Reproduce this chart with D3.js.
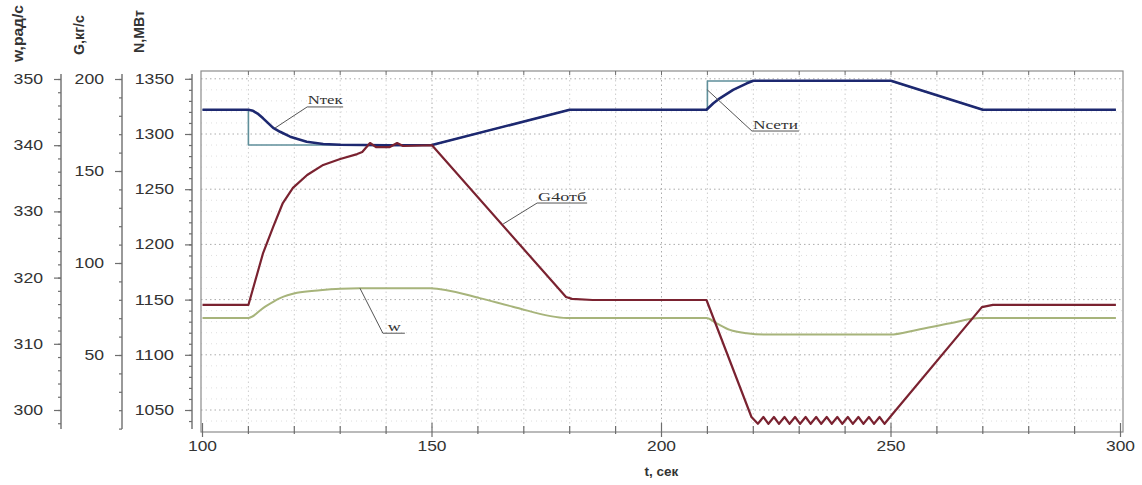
<!DOCTYPE html>
<html>
<head>
<meta charset="utf-8">
<script src="https://cdn.jsdelivr.net/npm/d3@7"></script>
<style>
  body{margin:0;background:#fff;}
  svg{display:block;}
</style>
</head>
<body>
<svg id="chart" width="1142" height="485"></svg>
<script>
// ---- data (t in seconds) ----
const tNset = [100,110,110,150,180,210,210,250,270,299];
const nSet  = [1322,1322,1290,1290,1322,1322,1348,1348,1322,1322];

const tNtek = [100,110,111,112,113.2,115.4,116.9,119.1,122.7,126.3,130,140,150,180,209.8,211.3,212.7,215.6,218.6,220,250,270,299];
const nTek  = [1322,1322,1321,1318.5,1314.2,1305.5,1302,1297.6,1293,1291,1290.2,1289.8,1290,1322,1322,1327.8,1332.3,1339.9,1345.9,1348.3,1348.3,1322,1322];

const tG = [100,110,111,113.2,115.4,117.5,119.7,122.8,126.3,130,133.7,134.8,136.5,137.8,140.8,142.4,143.7,150,
  179.2,180.5,185,209.8,
  219.6,221,222.2,223.3,224.5,225.6,226.8,227.9,229.1,230.2,231.4,232.5,233.7,234.8,236,237.1,238.3,239.4,240.6,241.7,242.9,244,245.2,246.3,247.5,248.6,249.8,
  269.8,272.2,299];
const gG = [77.2,77.2,86,105.4,119.6,132.6,140.8,147.8,153.3,156.5,159.2,160.3,165.2,163,163,165.2,163.6,164,
  81.5,80.5,79.9,79.9,
  16.3,12.6,16.3,12.6,16.3,12.6,16.3,12.6,16.3,12.6,16.3,12.6,16.3,12.6,16.3,12.6,16.3,12.6,16.3,12.6,16.3,12.6,16.3,12.6,16.3,12.6,16.3,
  76,77.2,77.2];

const tW = [100,110,113.2,116.9,120.6,125.6,134.3,149.6,160.4,167.6,179.4,209.8,212,214.9,218.6,223,249.8,255.6,262.9,269.4,299];
const wW = [313.9,313.9,315.4,316.9,317.7,318.1,318.4,318.4,316.9,315.6,313.9,313.9,313.1,312.1,311.6,311.4,311.4,312.1,313.1,313.9,313.9];

const tTicks = [100,150,200,250,300];
const wTicks = [300,310,320,330,340,350];
const gTicks = [50,100,150,200];
const nTicks = [1050,1100,1150,1200,1250,1300,1350];

// ---- layout ----
const svg = d3.select('#chart');
const plotTop = 71, plotBottom = 432, plotLeft = 201, plotRight = 1123;
const axTop = 74, axBot = 429;
const axisColor = '#6e6e6e';

const x = d3.scaleLinear().domain([100,300]).range([202.5,1120.5]);
const yN = d3.scaleLinear().domain([1050,1350]).range([410,78.8]);
const yG = d3.scaleLinear().domain([50,200]).range([355,79]);
const yW = d3.scaleLinear().domain([300,350]).range([410,79]);

// grid
const grid = svg.append('g');
grid.selectAll('.hmin').data(d3.range(1040,1351,10).filter(d => d % 50 != 0)).join('line')
  .attr('x1',plotLeft).attr('x2',plotRight)
  .attr('y1',d => yN(d)).attr('y2',d => yN(d))
  .attr('stroke','#dedede').attr('stroke-dasharray','1,4');
grid.selectAll('.hmaj').data(nTicks).join('line')
  .attr('x1',plotLeft).attr('x2',plotRight)
  .attr('y1',d => yN(d)).attr('y2',d => yN(d))
  .attr('stroke','#acacac').attr('stroke-dasharray','1.5,3');
grid.selectAll('.vg').data(d3.range(110,300,10)).join('line')
  .attr('x1',d => x(d)).attr('x2',d => x(d))
  .attr('y1',plotTop).attr('y2',plotBottom)
  .attr('stroke',d => d % 50 == 0 ? '#acacac' : '#cdcdcd')
  .attr('stroke-dasharray','1.5,3');

// frame
svg.append('rect')
  .attr('x',plotLeft).attr('y',plotTop)
  .attr('width',plotRight-plotLeft).attr('height',plotBottom-plotTop)
  .attr('fill','none').attr('stroke','#8c8c8c').attr('stroke-width',1.2);

// top ticks and bottom axis ticks
svg.append('g').selectAll('line').data(d3.range(110,300,10)).join('line')
  .attr('x1',d => x(d)).attr('x2',d => x(d))
  .attr('y1',plotTop).attr('y2',plotTop+4)
  .attr('stroke',axisColor);
svg.append('g').selectAll('line').data(d3.range(100,301,10)).join('line')
  .attr('x1',d => x(d)).attr('x2',d => x(d))
  .attr('y1',d => d % 50 == 0 ? plotBottom-9 : plotBottom-6)
  .attr('y2',d => d % 50 == 0 ? plotBottom+5 : plotBottom+2)
  .attr('stroke',axisColor).attr('stroke-width',1.2);
svg.append('g').selectAll('text').data(tTicks).join('text')
  .attr('x',d => x(d)).attr('y',451)
  .attr('text-anchor','middle')
  .attr('font-family','Liberation Sans, Arial, sans-serif')
  .attr('font-size',14).attr('fill','#333')
  .attr('textLength',29).attr('lengthAdjust','spacingAndGlyphs')
  .text(d => d);
svg.append('text')
  .attr('x',x(200)).attr('y',476)
  .attr('text-anchor','middle')
  .attr('font-family','Liberation Sans, Arial, sans-serif')
  .attr('font-size',13.5).attr('font-weight','bold').attr('fill','#333')
  .text('t, сек');

// left axes
function leftAxis(scale, xPos, majors, minors, title, titleX, titleLen, titleEnd){
  const ext = scale.copy()
    .domain([scale.invert(axBot), scale.invert(axTop)])
    .range([axBot, axTop]);
  const g = svg.append('g').attr('transform',`translate(${xPos},0)`);

  g.append('g')
    .call(d3.axisLeft(ext).tickValues(minors).tickSize(3).tickFormat(''))
    .call(a => a.select('.domain').remove());

  const major = g.append('g')
    .call(d3.axisLeft(ext).tickValues(majors).tickSize(7).tickPadding(11).tickFormat(d3.format('d')));
  major.select('.domain').remove();
  major.selectAll('text')
    .attr('font-family','Liberation Sans, Arial, sans-serif')
    .attr('font-size',14).attr('fill','#333')
    .attr('textLength',d => String(d).length*9.8)
    .attr('lengthAdjust','spacingAndGlyphs');

  g.selectAll('.tick line').attr('stroke',axisColor).attr('stroke-width',1.2);

  g.append('line')
    .attr('x1',0).attr('x2',0)
    .attr('y1',axTop).attr('y2',axBot)
    .attr('stroke',axisColor).attr('stroke-width',1.4);

  // rotated title above the axis
  svg.append('text')
    .attr('transform',`translate(${titleX},${titleEnd}) rotate(-90)`)
    .attr('font-family','Liberation Sans, Arial, sans-serif')
    .attr('font-size',14).attr('font-weight','bold').attr('fill','#333')
    .attr('textLength',titleLen).attr('lengthAdjust','spacingAndGlyphs')
    .text(title);
}

leftAxis(yW, 61, wTicks, d3.range(298,351,2), 'w,рад/с', 23, 57, 62);
leftAxis(yG, 122, gTicks, d3.range(10,201,10), 'G,кг/с', 84, 40, 55);
leftAxis(yN, 192, nTicks, d3.range(1040,1351,10), 'N,МВт', 144, 43, 53);

// ---- curves ----
const plot = svg.append('g');

function drawLine(ts, vs, yScale, color, width, curve){
  const pts = ts.map((t,i) => [t, vs[i]]);
  plot.append('path')
    .datum(pts)
    .attr('fill','none')
    .attr('stroke',color)
    .attr('stroke-width',width)
    .attr('stroke-linejoin','round')
    .attr('d',d3.line().x(d => x(d[0])).y(d => yScale(d[1])).curve(curve || d3.curveLinear));
}

drawLine(tNset, nSet, yN, '#5f8f9a', 1.6);
drawLine(tNtek, nTek, yN, '#1d2870', 2.6);
drawLine(tW, wW, yW, '#a7b47b', 2, d3.curveMonotoneX);
drawLine(tG, gG, yG, '#7a2230', 2.2);

// ---- labels with leader lines ----
function note(txt, px, py, ux, uy, uw, tl, dx){
  const g = svg.append('g');
  g.append('line')
    .attr('x1',px).attr('y1',py).attr('x2',ux).attr('y2',uy)
    .attr('stroke','#555').attr('stroke-width',1);
  g.append('line')
    .attr('x1',ux).attr('y1',uy).attr('x2',ux+uw).attr('y2',uy)
    .attr('stroke','#555').attr('stroke-width',1);
  g.append('text')
    .attr('x',ux+dx).attr('y',uy-2.5)
    .attr('font-family','Liberation Serif, Times New Roman, serif')
    .attr('font-size',13).attr('fill','#333')
    .attr('textLength',tl).attr('lengthAdjust','spacingAndGlyphs')
    .text(txt);
}

note('Nтек', x(115.8), yN(1305.4), x(122.8), yN(1324.5), 36, 35, 0.5);
note('Nсети', x(210), yN(1339.9), x(219.7), yN(1302.7), 47, 45, 1);
note('G4отб', x(165.5), yG(121.2), x(172.9), yG(132.6), 50, 48, 1);
note('w', x(134.3), yW(318.4), x(139.3), yW(311.6), 22, 13, 5);
</script>
</body>
</html>
